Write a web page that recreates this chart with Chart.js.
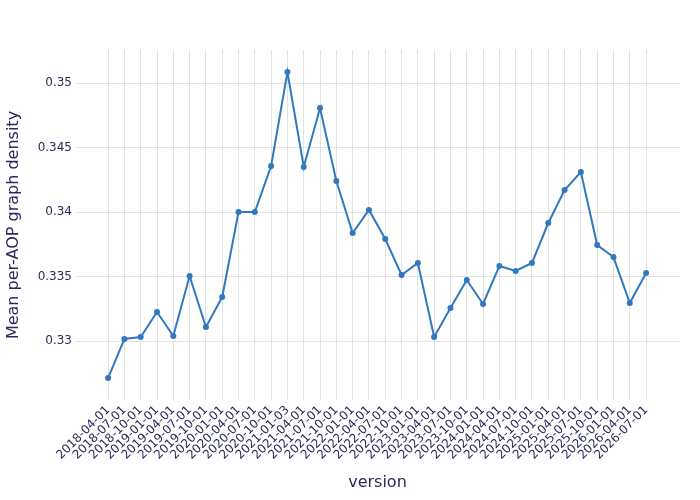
<!DOCTYPE html>
<html>
<head>
<meta charset="utf-8">
<script src="https://cdn.jsdelivr.net/npm/chart.js@4/dist/chart.umd.min.js"></script>
<style>
html,body{margin:0;padding:0;background:#fff;}
#wrap{width:700px;height:500px;}
</style>
</head>
<body>
<div id="wrap"><canvas id="c" width="700" height="500"></canvas></div>
<script>
const categories = ["2018-04-01","2018-07-01","2018-10-01","2019-01-01","2019-04-01","2019-07-01","2019-10-01","2020-01-01","2020-04-01","2020-07-01","2020-10-01","2021-01-03","2021-04-01","2021-07-01","2021-10-01","2022-01-01","2022-04-01","2022-07-01","2022-10-01","2023-01-01","2023-04-01","2023-07-01","2023-10-01","2024-01-01","2024-04-01","2024-07-01","2024-10-01","2025-01-01","2025-04-01","2025-07-01","2025-10-01","2026-01-01","2026-04-01","2026-07-01"];
const densityValues = [0.32713,0.33016,0.33031,0.33225,0.33039,0.33504,0.33109,0.33341,0.34000,0.34000,0.34357,0.35085,0.34349,0.34806,0.34240,0.33837,0.34016,0.33791,0.33512,0.33605,0.33031,0.33256,0.33473,0.33287,0.33581,0.33543,0.33605,0.33915,0.34171,0.34310,0.33744,0.33651,0.33295,0.33527];
const yTickValues = [0.33,0.335,0.34,0.345,0.35];

const textColor = "#2a2a5e";
const gridColor = "#e2e2e2";
const lineColor = "rgb(49,120,190)";
const font = "DejaVu Sans";

new Chart(document.getElementById("c"), {
  type: "line",
  data: {
    datasets: [{
      data: densityValues.map((v, i) => ({x: i, y: v})),
      borderColor: lineColor,
      backgroundColor: lineColor,
      borderWidth: 2,
      pointRadius: 3,
      pointHoverRadius: 3,
      pointBorderWidth: 0,
      tension: 0,
      fill: false
    }]
  },
  options: {
    responsive: false,
    animation: false,
    devicePixelRatio: 1,
    layout: {padding: {top: 50, right: 20, left: 0, bottom: 0}},
    plugins: {legend: {display: false}, tooltip: {enabled: false}},
    scales: {
      x: {
        type: "linear",
        min: -2.03,
        max: 35.08,
        afterBuildTicks: (axis) => { axis.ticks = categories.map((_, i) => ({value: i})); },
        afterFit: (axis) => { axis.height = 100; },
        ticks: {
          autoSkip: false,
          maxRotation: 45,
          minRotation: 45,
          padding: 3,
          color: textColor,
          font: {family: font, size: 12},
          callback: (v) => categories[v]
        },
        grid: {color: gridColor, drawTicks: false, lineWidth: 1},
        border: {display: false},
        title: {display: true, text: "version", color: textColor, font: {family: font, size: 16}, padding: {top: 0, bottom: 8}}
      },
      y: {
        type: "linear",
        min: 0.32543,
        max: 0.35256,
        afterBuildTicks: (axis) => { axis.ticks = yTickValues.map(v => ({value: v})); },
        afterFit: (axis) => { axis.width = 75; },
        ticks: {
          padding: 3,
          color: textColor,
          font: {family: font, size: 12},
          callback: (v) => String(+v.toFixed(3))
        },
        grid: {color: gridColor, drawTicks: false, lineWidth: 1},
        border: {display: false},
        title: {display: true, text: "Mean per-AOP graph density", color: textColor, font: {family: font, size: 16}, padding: {top: 4, bottom: 0}}
      }
    }
  }
});
</script>
</body>
</html>
